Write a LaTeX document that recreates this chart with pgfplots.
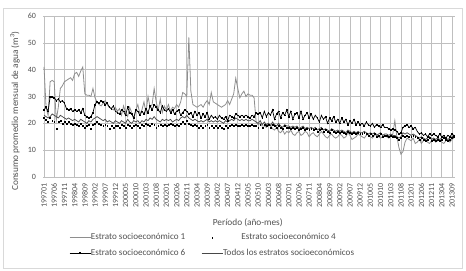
\documentclass[border=0pt]{standalone}
\usepackage{pgfplots}
\pgfplotsset{compat=1.18}
\usepackage{pgfplotstable}
\usepackage{fontspec}
\setmainfont{Carlito}
\definecolor{txt}{HTML}{505050}
\definecolor{grid}{HTML}{D9D9D9}
\definecolor{eone}{HTML}{8E8E8E}
\definecolor{todos}{HTML}{484848}

\begin{document}
\begin{tikzpicture}
\useasboundingbox (-43bp,-94bp) rectangle (423bp,177bp);
\draw[grid,line width=0.6bp] (-40bp,-91bp) rectangle (419bp,169bp);
\begin{axis}[
  at={(0,0)}, anchor=south west,
  scale only axis, width=412bp, height=161bp,
  xmin=-0.5, xmax=201.5, ymin=0, ymax=60,
  ytick={0,10,...,60},
  xtick={0,5,...,200},
  xticklabels={199701,199706,199711,199804,199809,199902,199907,199912,200005,200010,200103,200108,200201,200206,200211,200304,200309,200402,200407,200412,200505,200510,200603,200608,200701,200706,200711,200804,200809,200902,200907,200912,201005,201010,201103,201108,201201,201206,201211,201304,201309},
  ymajorgrids, grid style={grid,line width=0.6bp},
  axis line style={draw=none}, tick style={draw=none},
  /pgf/number format/assume math mode=true,
  tick label style={font=\fontsize{8bp}{9.5bp}\selectfont, text=txt},
  x tick label style={rotate=90, anchor=east},
  xticklabel shift=2.5bp, yticklabel shift=3.5bp,
  xlabel={Período (año-mes)},
  ylabel={Consumo promedio mensual de agua (m\textsuperscript{3})},
  label style={font=\fontsize{9.3bp}{11bp}\selectfont, text=txt},
  xlabel style={at={(axis description cs:0.497,-0.286)}, anchor=center},
  ylabel style={at={(axis description cs:-0.068,0.41)}, anchor=center},
  legend columns=2,
  legend style={at={(axis description cs:0.063,-0.424)}, anchor=west,
    draw=none, fill=none, font=\fontsize{9.1bp}{11bp}\selectfont, text=txt,
    /tikz/every even column/.append style={column sep=14bp},
    /tikz/every odd column/.append style={column sep=-2bp},
    row sep=3.5bp, inner sep=0pt},
  legend image code/.code={\draw[#1,mark repeat=2,mark phase=2] plot coordinates {(0bp,0bp)(10.5bp,0bp)(21bp,0bp)};},
]
\addplot[eone, line width=0.8bp, no marks] table[row sep=\\, x expr=\coordindex, y index=0]{
y\\
41\\26\\23\\35.5\\36\\35.5\\21\\26\\33\\34\\35.5\\36\\
36.5\\37\\36\\38.5\\39\\37.5\\39.5\\41\\31\\30.5\\30.5\\30\\
33\\29.5\\28\\27\\26.5\\27.5\\28.5\\27\\26\\25.5\\25\\26\\
24.5\\25.5\\23\\26.5\\24\\22.5\\26\\24\\21.5\\25\\27\\23.5\\
25\\28\\24\\30\\26\\27\\33\\28\\25\\29\\24\\26.5\\
25\\27\\24.5\\26\\25.5\\27\\26\\28\\31.5\\31\\30\\52\\
32\\27\\26.5\\26\\26.5\\27\\26\\27.5\\28.5\\27\\31.5\\28\\
27.5\\27\\26.5\\26\\26.5\\27\\28.5\\27\\29\\31\\36.8\\33\\
29.5\\31\\32\\30\\31\\30.5\\30.5\\29.5\\20.5\\19.5\\20\\19\\
19\\18.5\\20\\19.5\\18\\17.5\\18.5\\17\\16.5\\17.5\\16\\17\\
16.5\\17.5\\16\\15.5\\16.5\\17\\15.5\\16\\17\\16.5\\15\\16\\
16.5\\15.5\\15\\16\\17\\16\\15\\14.5\\15.5\\16\\15\\14.5\\
15\\16\\15.5\\14.5\\15\\16.5\\15.5\\14\\14.5\\15\\16\\15.5\\
15\\14.5\\15.5\\16\\15\\14.5\\15.5\\16\\15\\14.5\\15\\15.5\\
15\\14.5\\15\\16\\21\\15\\11\\8.5\\9.5\\13\\14.5\\14\\
13.5\\14.5\\12.5\\13\\14\\12.5\\13.5\\14\\13\\12.5\\13.5\\14\\
13\\13.5\\14\\13\\12.5\\13.5\\14\\13\\14\\14.5\\
};
\addlegendentry{Estrato socioeconómico 1}
\addplot[black, only marks, mark=square*, mark size=0.45bp] table[row sep=\\, x expr=\coordindex, y index=0]{
y\\
22\\21.5\\20.5\\22\\21\\20.5\\18\\20.5\\21\\20\\20.5\\20\\
20.5\\20\\19.5\\20\\19.5\\19\\20\\19\\18.5\\19\\19.5\\18\\
19.5\\20\\20.5\\20\\19.5\\19\\19.5\\19\\18\\19\\18.5\\19\\
19\\18.5\\19.5\\19\\18.5\\19.5\\19\\18.5\\19\\19.5\\19\\18.5\\
19.5\\19\\20\\19.5\\19\\20\\19.5\\18.5\\19\\19.5\\19\\19.5\\
19\\19.5\\20\\19.5\\19\\19.5\\19\\20\\20.5\\20\\21\\20\\
19.5\\19\\19.5\\19\\18.5\\19\\18.5\\19\\19.5\\18.5\\19\\18.5\\
19\\18.5\\19\\18.5\\18\\19\\18.5\\19\\19.5\\19\\19.5\\19\\
19\\19.5\\19\\19.5\\19\\19\\19.5\\19\\19\\18.5\\19.5\\18.5\\
19.5\\19\\19.5\\18.5\\19.5\\19\\18.5\\19\\18.5\\18\\19\\18.5\\
18.5\\18\\18.5\\18\\18.5\\17.5\\18\\18.5\\17.5\\18\\17.5\\18\\
17.5\\18\\17\\17.5\\18\\17\\17.5\\17\\16.5\\17.5\\17\\16.5\\
17\\16.5\\17\\16.5\\16\\17\\16.5\\16\\16.5\\16\\16.5\\16\\
16\\16.5\\16\\15.5\\16\\15.5\\16\\15\\15.5\\16\\15\\15.5\\
15.5\\15\\15.5\\15\\15\\14.5\\14\\14.5\\15.5\\15\\15.5\\15\\
15\\15.5\\15\\14.5\\14\\14.5\\14\\13.5\\14\\14.5\\13.5\\14\\
13.5\\14\\13.5\\14\\14.5\\14\\13.5\\14\\14.5\\15\\
};
\addlegendentry{Estrato socioeconómico 4}
\addplot[black, line width=0.7bp, mark=square*, mark size=0.4bp] table[row sep=\\, x expr=\coordindex, y index=0]{
y\\
25\\26\\24.5\\30\\30\\29.5\\28.5\\29\\28\\28.5\\27.5\\25.5\\
25\\25.5\\24.5\\25\\24.5\\25\\24\\25.5\\23\\22.5\\22\\22.5\\
24\\27\\28\\27.5\\28.5\\28\\27\\27.5\\26\\25.5\\26.5\\24.5\\
24\\23.5\\25\\24.5\\23\\26\\24\\23.5\\22\\25\\24.5\\23\\
24.5\\23.5\\25.5\\24\\26.5\\25\\27\\26\\25\\24\\26.5\\25\\
24.5\\25.5\\24\\25\\23.5\\24.5\\25\\23\\24\\25\\24.5\\23.5\\
24\\22.5\\24.5\\23\\24\\22\\23.5\\22.5\\24\\21.5\\23\\22\\
22.5\\21.5\\23\\22\\21.5\\22.5\\21\\23\\22.5\\22\\23.5\\23\\
22.5\\23\\22.5\\23\\22.5\\22\\23\\22.5\\24\\23.5\\24\\22\\
24.5\\22.5\\24\\23\\25\\21.5\\23.5\\24.5\\22\\24\\23\\25\\
22.5\\24.5\\21.5\\23.5\\24\\22\\24.5\\21.5\\23\\24\\22\\23.5\\
21.5\\23\\22\\20.5\\23\\21.5\\22.5\\20\\22\\21\\22.5\\20.5\\
21.5\\20\\22\\20.5\\21.5\\19.5\\21\\20\\21.5\\19.5\\20.5\\19.5\\
20\\19\\20.5\\19.5\\19\\20\\18.5\\19.5\\19\\18.5\\19.5\\18.5\\
18.5\\18\\17.5\\18\\17.5\\17\\16\\16.5\\18.5\\19\\19.5\\18.5\\
19\\18\\18.5\\17\\16\\16.5\\15.5\\16\\15\\16\\15.5\\16\\
15.5\\15\\16\\15\\15.5\\14.5\\15.5\\15\\16\\15.5\\
};
\addlegendentry{Estrato socioeconómico 6}
\addplot[todos, line width=0.75bp, no marks] table[row sep=\\, x expr=\coordindex, y index=0]{
y\\
23\\22.5\\22\\22.5\\23.5\\23\\22.5\\22\\23\\22.5\\22\\21.5\\
22\\21.5\\21\\21.5\\21\\20.5\\21.5\\21\\20.5\\20\\21\\20.5\\
21.5\\22\\22.5\\22\\21.5\\21\\21.5\\20.5\\21\\20.5\\20\\21\\
20.5\\20\\21\\20.5\\20\\21.5\\20.5\\20\\21\\20.5\\21\\20\\
21\\20.5\\21.5\\21\\22\\21.5\\22.5\\21.5\\21\\20.5\\21.5\\21\\
21.5\\21\\21.5\\20.5\\21\\21.5\\21\\22\\22.5\\22\\23\\22\\
21.5\\21\\21.5\\21\\20.5\\21\\20.5\\21\\21.5\\20.5\\21\\20.5\\
21\\20.5\\21\\20.5\\20\\21\\20.5\\21\\21.5\\21\\22\\21.5\\
21\\21.5\\21\\21.5\\21\\21\\21.5\\21\\20.5\\20\\21\\19.5\\
20.5\\19.5\\20\\19\\20.5\\19.5\\19\\20\\19\\18.5\\19.5\\19\\
19\\18.5\\19\\18.5\\19\\18\\18.5\\19\\18\\18.5\\18\\18.5\\
18\\18.5\\17.5\\18\\18.5\\17.5\\18\\17.5\\17\\18\\17.5\\17\\
17.5\\17\\17.5\\17\\16.5\\17.5\\17\\16.5\\17\\16.5\\17\\16.5\\
16.5\\17\\16.5\\16\\16.5\\16\\16.5\\15.5\\16\\16.5\\15.5\\16\\
16\\15.5\\16\\15.5\\15.5\\15\\14.5\\15\\16.5\\16\\16.5\\16\\
15.5\\16\\15.5\\15\\14.5\\15\\14.5\\14\\14.5\\15\\14\\14.5\\
14\\14.5\\14\\14.5\\15\\14.5\\14\\14.5\\15\\15.5\\
};
\addlegendentry{Todos los estratos socioeconómicos}
\end{axis}
\end{tikzpicture}
\end{document}
